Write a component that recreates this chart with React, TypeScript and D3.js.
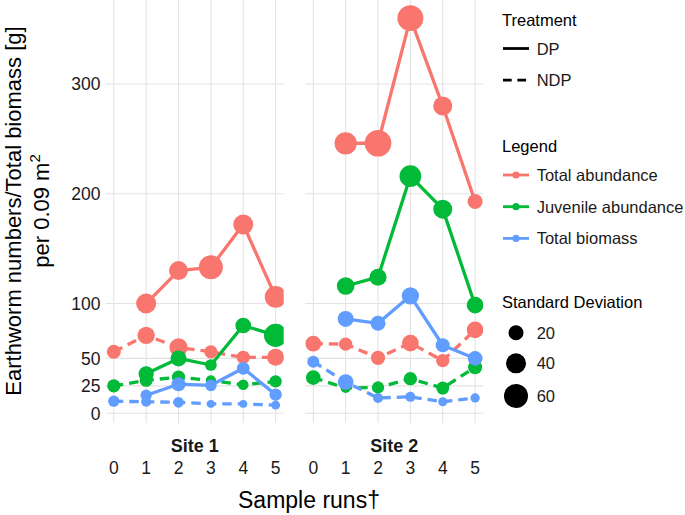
import React from "react";
import * as d3 from "d3";

const runs = [0, 1, 2, 3, 4, 5];
const sites = ["Site 1", "Site 2"];
const measures = ["Total abundance", "Juvenile abundance", "Total biomass"];
const treatments = ["DP", "NDP"];
const yTicks = [0, 25, 50, 100, 200, 300];
const sdBreaks = [20, 40, 60];

// Site 1 values
const s1TotalDP = [null, 100, 130, 133, 172, 106];
const s1TotalNDP = [56, 71, 60, 56, 51, 51];
const s1JuvDP = [null, 36, 50, 44, 80, 71];
const s1JuvNDP = [25, 30, 33, 30, 26, 29];
const s1BioDP = [null, 16.5, 26.5, 25.5, 41, 17];
const s1BioNDP = [11, 10.5, 10, 8.5, 8.5, 7.5];
// Site 2 values
const s2TotalDP = [null, 246, 246, 360, 280, 193];
const s2TotalNDP = [63.5, 63, 50.5, 64, 48, 76];
const s2JuvDP = [null, 116, 124, 216, 186, 98.5];
const s2JuvNDP = [32.5, 23, 23.5, 31.5, 23, 42];
const s2BioDP = [null, 86, 82, 107, 62, 50];
const s2BioNDP = [47, 28.5, 14, 15, 10.5, 14];

// Standard deviations
const s1TotalDPsd = [null, 40, 35.5, 60, 40, 48];
const s1TotalNDPsd = [16.7, 28.5, 32.5, 14.5, 14.5, 27.3];
const s1JuvDPsd = [null, 21, 23.5, 10, 22.5, 56];
const s1JuvNDPsd = [14.5, 13.6, 14.5, 5.8, 7.4, 11.6];
const s1BioDPsd = [null, 8.9, 16.7, 10, 12.7, 11.6];
const s1BioNDPsd = [8.9, 5.8, 7.4, 1.1, 1.1, 3.6];
const s2TotalDPsd = [null, 51, 75, 71, 35.5, 20];
const s2TotalNDPsd = [22.5, 14.5, 17.7, 26.2, 14.5, 26.2];
const s2JuvDPsd = [null, 30, 27.3, 48, 35.5, 26.2];
const s2JuvNDPsd = [19, 5.8, 11.6, 14.5, 13.6, 16.7];
const s2BioDPsd = [null, 23.5, 20, 28.5, 16.7, 19];
const s2BioNDPsd = [10.8, 22.5, 5.8, 5.8, 3.6, 4.2];

const colors = ["#F8766D", "#00BA38", "#619CFF"];

type Series = { measure: number; treatment: number; values: (number | null)[]; sds: (number | null)[] };

const panelData: Series[][] = [
  [
    { measure: 0, treatment: 0, values: s1TotalDP, sds: s1TotalDPsd },
    { measure: 0, treatment: 1, values: s1TotalNDP, sds: s1TotalNDPsd },
    { measure: 1, treatment: 0, values: s1JuvDP, sds: s1JuvDPsd },
    { measure: 1, treatment: 1, values: s1JuvNDP, sds: s1JuvNDPsd },
    { measure: 2, treatment: 0, values: s1BioDP, sds: s1BioDPsd },
    { measure: 2, treatment: 1, values: s1BioNDP, sds: s1BioNDPsd },
  ],
  [
    { measure: 0, treatment: 0, values: s2TotalDP, sds: s2TotalDPsd },
    { measure: 0, treatment: 1, values: s2TotalNDP, sds: s2TotalNDPsd },
    { measure: 1, treatment: 0, values: s2JuvDP, sds: s2JuvDPsd },
    { measure: 1, treatment: 1, values: s2JuvNDP, sds: s2JuvNDPsd },
    { measure: 2, treatment: 0, values: s2BioDP, sds: s2BioDPsd },
    { measure: 2, treatment: 1, values: s2BioNDP, sds: s2BioNDPsd },
  ],
];

const W = 685;
const H = 515;
const FONT = "'Liberation Sans', Arial, Helvetica, sans-serif";
const panelLeft = [105.7, 305.2];
const panelWidth = 178;
const panelTop = 0;
const panelBottom = 423;
const LW = 3.3;
const DASH = "9.5 6";

const y = d3.scaleLinear().domain([0, 300]).range([413.3, 84]);
const diamSq = d3.scaleLinear().domain([0, 60]).range([49.5, 576]);
const radius = (sd: number) => Math.sqrt(Math.max(diamSq(sd), 1)) / 2;

export default function App() {
  const legendX = 502;
  const keyX0 = 503;
  const keyX1 = 529;
  const labelX = 536.7;
  return (
    <div style={{ position: "absolute", left: 0, top: 0 }}>
      <svg width={W} height={H} style={{ display: "block", background: "#fff" }} fontFamily={FONT}>
        <defs>
          {panelLeft.map((pl, i) => (
            <clipPath id={`clip${i}`} key={i}>
              <rect x={pl} y={panelTop} width={panelWidth} height={panelBottom - panelTop} />
            </clipPath>
          ))}
        </defs>
        {/* Y tick labels */}
        {yTicks.map((t) => (
          <text key={t} x={100.5} y={y(t) + 6.3} textAnchor="end" fontSize={17.5} fill="#1a1a1a">
            {t}
          </text>
        ))}
        {/* Y title */}
        <g transform="translate(20.5,211) rotate(-90)">
          <text x={0} y={0} textAnchor="middle" fontSize={22} fill="#000">
            Earthworm numbers/Total biomass [g]
          </text>
          <text x={0} y={28} textAnchor="middle" fontSize={22} fill="#000">
            per 0.09 m<tspan dy={-9} fontSize={15}>2</tspan>
          </text>
        </g>
        {panelLeft.map((pl, pi) => {
          const x = d3.scaleLinear().domain([-0.25, 5.25]).range([pl, pl + panelWidth]);
          const series = panelData[pi];
          const line = d3
            .line<number | null>()
            .defined((d) => d !== null)
            .x((_, i) => x(runs[i]))
            .y((d) => y(d as number));
          return (
            <g key={pi}>
              {/* grid */}
              {yTicks.map((t) => (
                <line key={"h" + t} x1={pl} x2={pl + panelWidth} y1={y(t)} y2={y(t)} stroke="#e3e3e3" strokeWidth={1.1} />
              ))}
              {runs.map((r) => (
                <line key={"v" + r} x1={x(r)} x2={x(r)} y1={panelTop} y2={panelBottom} stroke="#e3e3e3" strokeWidth={1.1} />
              ))}
              <g clipPath={`url(#clip${pi})`}>
                {series.map((s, si) => (
                  <path
                    key={"l" + si}
                    d={line(s.values) || ""}
                    fill="none"
                    stroke={colors[s.measure]}
                    strokeWidth={LW}
                    strokeDasharray={s.treatment === 1 ? DASH : undefined}
                    strokeLinejoin="round"
                  />
                ))}
                {series.map((s, si) =>
                  s.values.map((v, i) =>
                    v === null ? null : (
                      <circle
                        key={"p" + si + "-" + i}
                        cx={x(runs[i])}
                        cy={y(v)}
                        r={radius(s.sds[i] as number)}
                        fill={colors[s.measure]}
                      />
                    )
                  )
                )}
              </g>
              {/* strip label */}
              <text x={pl + panelWidth / 2} y={452} textAnchor="middle" fontSize={18} fontWeight="bold" fill="#1a1a1a">
                {sites[pi]}
              </text>
              {runs.map((r) => (
                <text key={"xt" + r} x={x(r)} y={474.3} textAnchor="middle" fontSize={17.5} fill="#1a1a1a">
                  {r}
                </text>
              ))}
            </g>
          );
        })}
        {/* X title */}
        <text x={309} y={508} textAnchor="middle" fontSize={23} fill="#000">
          Sample runs†
        </text>
        {/* Legend: Treatment */}
        <text x={legendX} y={26} fontSize={16.5} fill="#000">Treatment</text>
        {treatments.map((t, i) => {
          const cy = 48.5 + i * 31.7;
          return (
            <g key={t}>
              <line x1={keyX0} x2={keyX1} y1={cy} y2={cy} stroke="#000" strokeWidth={2.8} strokeDasharray={i === 1 ? "8.7 5.7" : undefined} />
              <text x={labelX} y={cy + 6} fontSize={16.5} fill="#1a1a1a">{t}</text>
            </g>
          );
        })}
        {/* Legend: measures */}
        <text x={legendX} y={152} fontSize={16.5} fill="#000">Legend</text>
        {measures.map((m, i) => {
          const cy = 175 + i * 31.7;
          return (
            <g key={m}>
              <line x1={keyX0} x2={keyX1} y1={cy} y2={cy} stroke={colors[i]} strokeWidth={2.8} />
              <circle cx={(keyX0 + keyX1) / 2} cy={cy} r={3.6} fill={colors[i]} />
              <text x={labelX} y={cy + 6} fontSize={16.5} fill="#1a1a1a">{m}</text>
            </g>
          );
        })}
        {/* Legend: SD */}
        <text x={legendX} y={307.7} fontSize={16.5} fill="#000">Standard Deviation</text>
        {sdBreaks.map((b, i) => {
          const cy = 332.7 + [0, 30.6, 63.3][i];
          return (
            <g key={b}>
              <circle cx={516} cy={cy} r={radius(b)} fill="#000" />
              <text x={labelX} y={cy + 6} fontSize={16.5} fill="#1a1a1a">{b}</text>
            </g>
          );
        })}
      </svg>
    </div>
  );
}
